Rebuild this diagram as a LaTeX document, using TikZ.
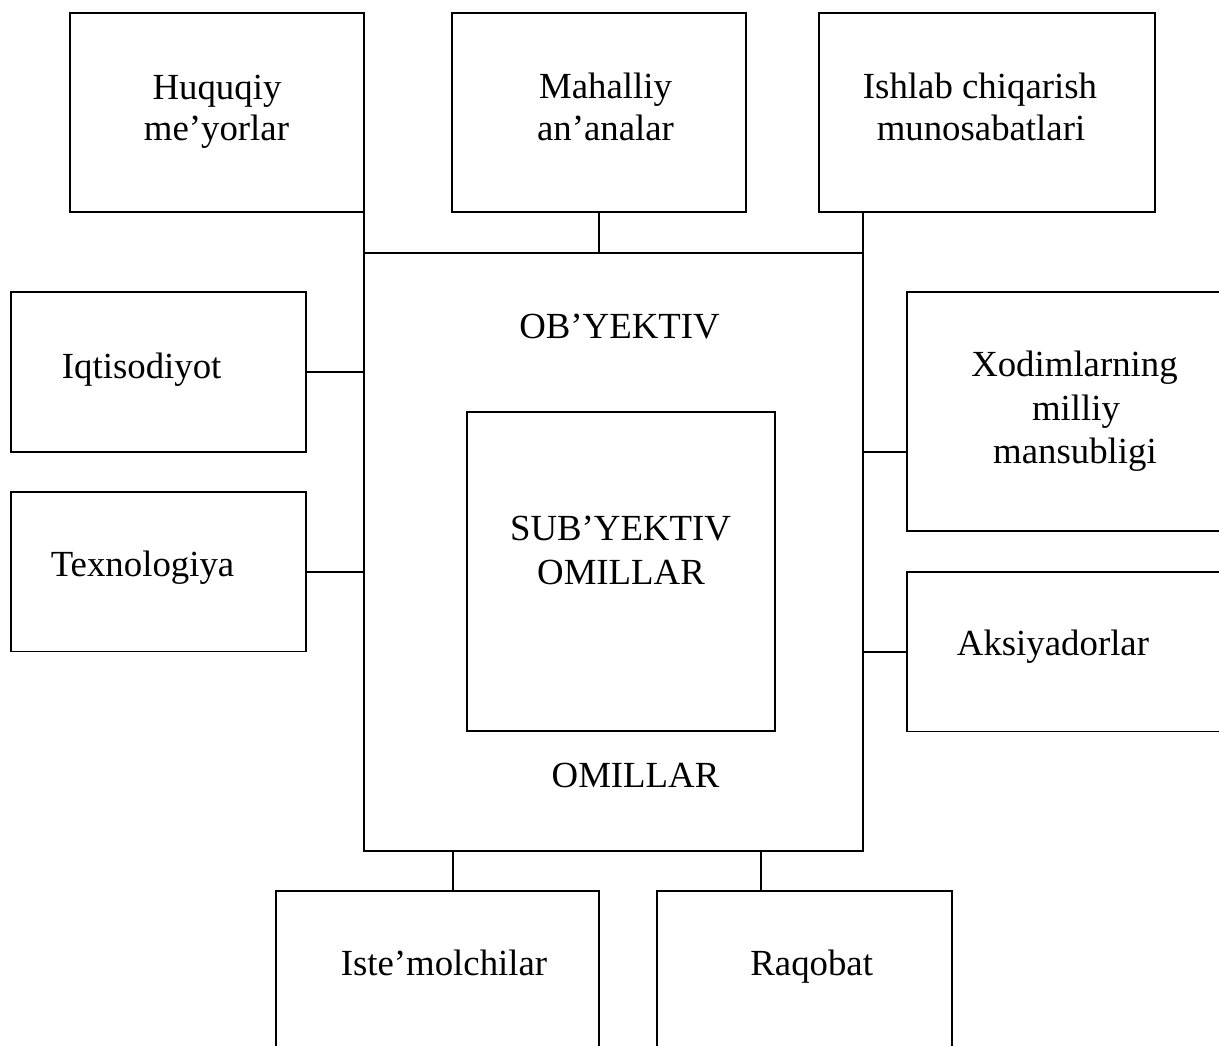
\documentclass[tikz,border=0pt]{standalone}
\usepackage{fontspec}
\setmainfont{Liberation Serif}
\begin{document}
\begin{tikzpicture}[x=1pt,y=-1pt,
  box/.style={draw,rectangle,line width=1.6pt,inner sep=0pt,outer sep=0pt,minimum width=#1},
  conn/.style={line width=1.6pt},
  lbl/.style={anchor=base,inner sep=0pt,font=\fontsize{36.8}{42}\selectfont}]
\clip (0,0) rectangle (1219,1045);
\fill[white] (0,0) rectangle (1219,1045);
% boxes
\node[box=294,minimum height=199] (huq) at (217,112.7) {};
\node[box=294,minimum height=199] (mah) at (599.2,112.7) {};
\node[box=336,minimum height=199] (ish) at (987,112.7) {};
\node[box=499,minimum height=598] (cen) at (613.5,552) {};
\node[box=308,minimum height=319] (inn) at (621,571.5) {};
\node[box=295,minimum height=160] (iqt) at (158.5,371.8) {};
\node[box=295,minimum height=159.5] (tex) at (158.5,571.8) {};
\node[box=343,minimum height=239.5] (xod) at (1078.5,411.5) {};
\node[box=343,minimum height=159.5] (aks) at (1078.5,651.8) {};
\node[box=323,minimum height=190] (ist) at (437.5,985.7) {};
\node[box=294.5,minimum height=190] (raq) at (804.5,985.7) {};
% connectors
\draw[conn] (huq.south east) -- (huq.south east |- cen.north);
\draw[conn] (mah.south) -- (mah.south |- cen.north);
\draw[conn] (cen.north east |- ish.south) -- (cen.north east);
\draw[conn] (iqt.east) -- (iqt.east -| cen.west);
\draw[conn] (tex.east) -- (tex.east -| cen.west);
\coordinate (xodc) at (907,451.7);
\draw[conn] (xodc) -- (xodc -| cen.east);
\draw[conn] (aks.west) -- (aks.west -| cen.east);
\coordinate (istc) at (452.8,890.7);
\draw[conn] (istc) -- (istc |- cen.south);
\coordinate (raqc) at (760.7,890.7);
\draw[conn] (raqc) -- (raqc |- cen.south);
% labels
\node[lbl] (huq1) at (217,99.3) {Huquqiy};
\node[lbl] (huq2) at (216.5,140.7) {me’yorlar};
\node[lbl] (mah1) at (605.5,98.3) {Mahalliy};
\node[lbl] (mah2) at (605.5,140) {an’analar};
\node[lbl] (ish1) at (980,98.3) {Ishlab chiqarish};
\node[lbl] (ish2) at (981,140) {munosabatlari};
\node[lbl] (obj) at (619.5,338) {OB’YEKTIV};
\node[lbl] (sub1) at (620.5,540) {SUB’YEKTIV};
\node[lbl] (sub2) at (621,584) {OMILLAR};
\node[lbl] (omi) at (635.5,787) {OMILLAR};
\node[lbl] (iqtl) at (141.7,378) {Iqtisodiyot};
\node[lbl] (texl) at (142.5,576.7) {Texnologiya};
\node[lbl] (xod1) at (1074.5,376.7) {Xodimlarning};
\node[lbl] (xod2) at (1076,420) {milliy};
\node[lbl] (xod3) at (1075,463.3) {mansubligi};
\node[lbl] (aksl) at (1053,655) {Aksiyadorlar};
\node[lbl] (istl) at (444,975.7) {Iste’molchilar};
\node[lbl] (raql) at (811.7,975.7) {Raqobat};
\end{tikzpicture}
\end{document}
